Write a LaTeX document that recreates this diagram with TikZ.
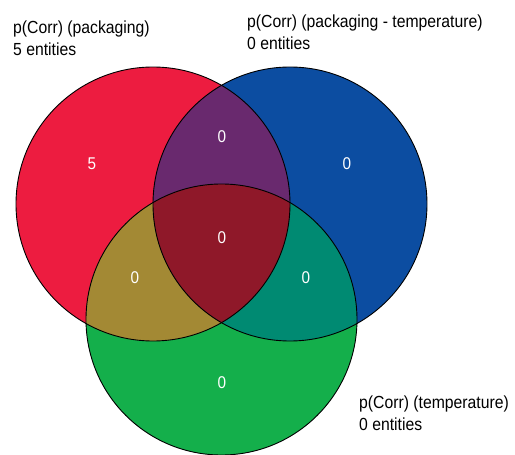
\documentclass[tikz,border=0pt]{standalone}
\usepackage{fontspec}
\setmainfont[FakeStretch=0.9]{Liberation Sans}
\usetikzlibrary{positioning}
\definecolor{setA}{RGB}{237,28,64}
\definecolor{setB}{RGB}{12,77,161}
\definecolor{setC}{RGB}{20,175,75}
\definecolor{setAB}{RGB}{105,41,110}
\definecolor{setAC}{RGB}{163,137,52}
\definecolor{setBC}{RGB}{0,138,114}
\definecolor{setABC}{RGB}{143,24,41}
\tikzset{
  set title/.style={
    anchor=base west,
    align=left,
    inner sep=0pt,
    font=\fontsize{17.5}{22}\selectfont,
  },
  count/.style={
    text=white,
    inner sep=0pt,
    font=\fontsize{17}{19}\selectfont,
  },
  outline/.style={
    draw=black,
    line width=0.9pt,
  }
}
\newcommand{\rad}{137}

\begin{document}
\begin{tikzpicture}[x=1pt,y=-1pt]
        \useasboundingbox (0,0) rectangle (515,455);
        \coordinate (ca) at (153,204);
        \coordinate (cb) at (290,204);
        \coordinate (cc) at (221.5,319.5);

        % single sets
        \fill [setA] (ca) circle (\rad);
        \fill [setB] (cb) circle (\rad);
        \fill [setC] (cc) circle (135.5);

        % overlaps
        \begin{scope}
          \clip (ca) circle (\rad);
          \fill [setAB] (cb) circle (\rad);
          \fill [setAC] (cc) circle (135.5);
          \clip (cb) circle (\rad);
          \fill [setABC] (cc) circle (135.5);
        \end{scope}
        \begin{scope}
          \clip (cb) circle (\rad);
          \clip (cc) circle (135.5);
          \fill [setBC] (ca) ++(-300,-300) rectangle ++(800,800);
          \clip (ca) circle (\rad);
          \fill [setABC] (ca) ++(-300,-300) rectangle ++(800,800);
        \end{scope}

        \draw [outline] (ca) circle (\rad);
        \draw [outline] (cb) circle (\rad);
        \draw [outline] (cc) circle (135.5);

        % base anchor sits on the last line
        \node [set title] (ta) at (13,55) {p(Corr) (packaging)\\5 entities};
        \node [set title] (tb) at (247,49) {p(Corr) (packaging - temperature)\\0 entities};
        \node [set title] (tc) at (359,430) {p(Corr) (temperature)\\0 entities};

        \node [count] (na) at (92,164) {5};
        \node [count] (nb) at (347,164) {0};
        \node [count] (nc) at (222,383) {0};
        \node [count] (nab) at (222,137) {0};
        \node [count] (nac) at (135,278) {0};
        \node [count] (nbc) at (306,278) {0};
        \node [count] (nabc) at (222,238) {0};
      \end{tikzpicture}
\end{document}
